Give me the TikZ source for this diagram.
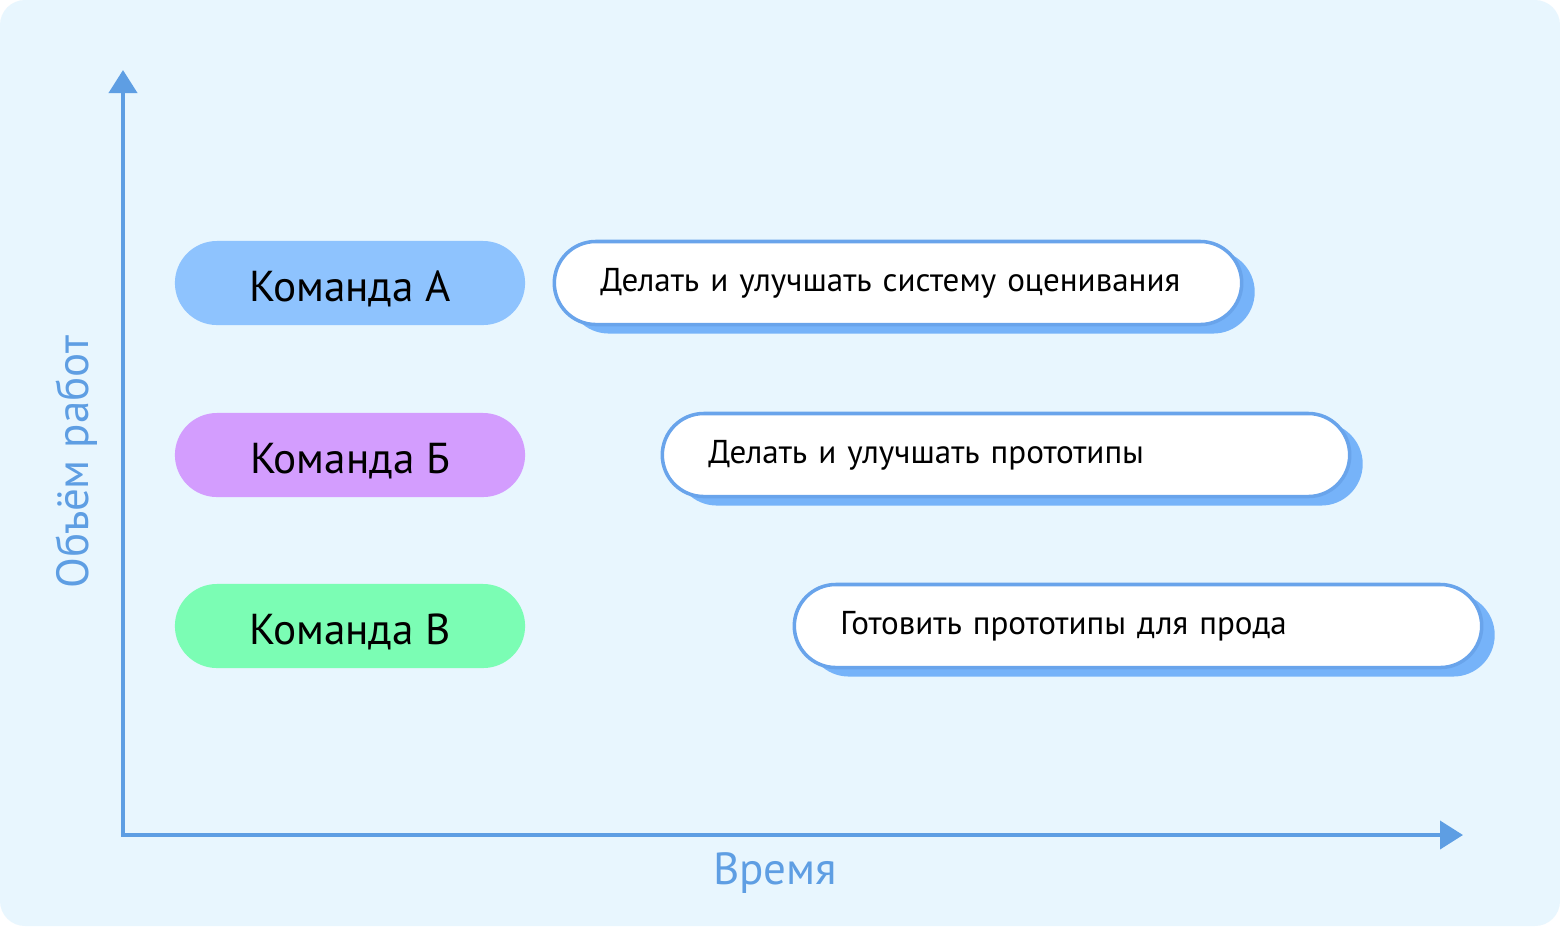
\documentclass[tikz,border=0pt]{standalone}
\usepackage{fontspec}
\setmainfont{PT Sans}
\usetikzlibrary{arrows.meta,shadows}
\definecolor{bgblue}{HTML}{E8F6FE}
\definecolor{axisblue}{HTML}{5E9EE3}
\definecolor{teamA}{HTML}{8EC3FE}
\definecolor{teamB}{HTML}{D39DFE}
\definecolor{teamC}{HTML}{7BFDB4}
\definecolor{taskline}{HTML}{69A4EB}
\definecolor{taskshadow}{HTML}{76B3F9}
\tikzset{
	team/.style={rounded corners=0.42cm, minimum width=3.5cm, minimum height=0.84cm, inner sep=0pt, text height=0.42cm, text depth=0.06cm, font=\fontsize{12.3}{15}\selectfont},
	task/.style={draw=taskline, line width=1pt, fill=white, rounded corners=0.415cm, minimum height=0.83cm, text width=5.95cm, inner xsep=0.46cm, inner ysep=0pt, align=left, font=\fontsize{9.4}{12}\selectfont,
		drop shadow={shadow xshift=0.13cm, shadow yshift=-0.09cm, fill=taskshadow, opacity=1}},
	axislabel/.style={text=axisblue, font=\fontsize{12.8}{15}\selectfont}
}
\begin{document}
\begin{tikzpicture}[x=0.01cm, y=-0.01cm]
		\fill[white] (0,0) rectangle (1560,926);
		\fill[bgblue, rounded corners=0.25cm] (0,0) rectangle (1560,926);
		\coordinate (origin) at (123,835);
		\coordinate (ytop) at (123,70);
		\coordinate (xend) at (1463,835);
		\draw[axisblue, line width=1.1pt, {Triangle[length=0.23cm, width=0.28cm]}-{Triangle[length=0.23cm, width=0.28cm]}] (ytop) -- (origin) -- (xend);
		\node[axislabel, rotate=90] (ylabel) at (77,462) {Объём работ};
		\node[axislabel] (xlabel) at (775,873) {Время};
		\node[team, fill=teamA] (teamA) at (350,283) {Команда А};
		\node[team, fill=teamB] (teamB) at (350,455) {Команда Б};
		\node[team, fill=teamC] (teamC) at (350,626) {Команда В};
		\node[task] (taskA) at (898,283) {Делать и улучшать систему оценивания};
		\node[task] (taskB) at (1006,455) {Делать и улучшать прототипы};
		\node[task] (taskC) at (1138,626) {Готовить прототипы для прода};
	\end{tikzpicture}
\end{document}
